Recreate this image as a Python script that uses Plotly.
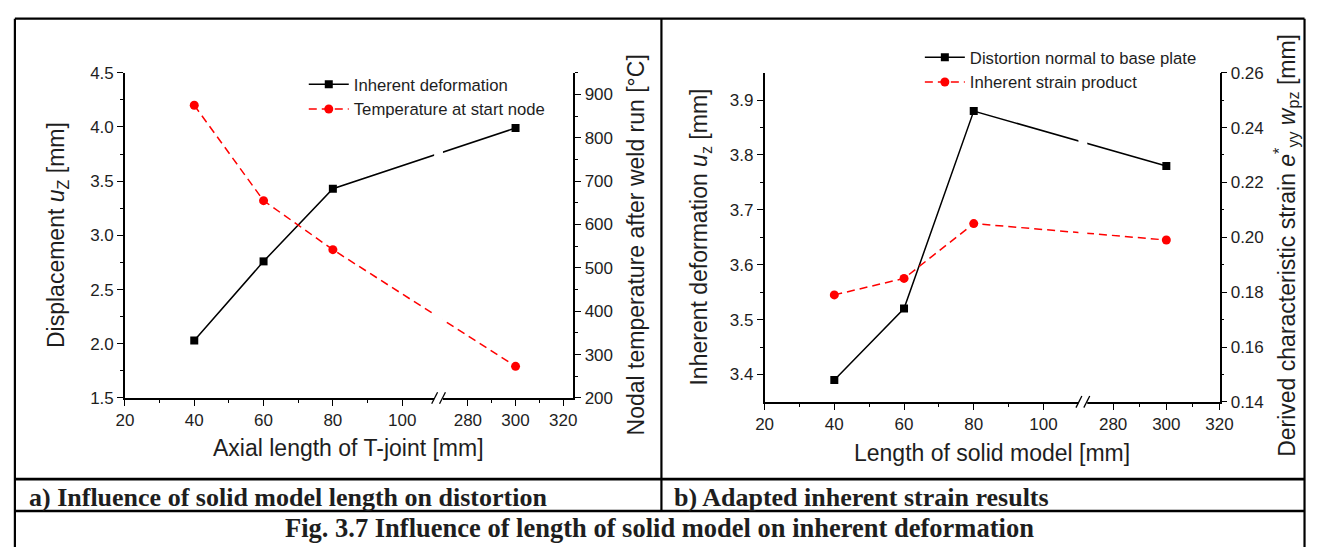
import plotly.graph_objects as go

# ---------------- data ----------------
lengths = [40, 60, 80, 300]
tick_values = [20, 40, 60, 80, 100, 280, 300, 320]
minor_values = [30, 50, 70, 90, 290, 310]

left_deformation = [2.03, 2.76, 3.43, 3.99]          # mm
left_temperature = [875, 655, 542, 273]              # deg C
right_distortion = [3.39, 3.52, 3.88, 3.78]          # mm
right_strain = [0.179, 0.185, 0.205, 0.199]          # mm

W, H = 1320, 547
SANS = "Liberation Sans, Arial, sans-serif"
SERIF = "Liberation Serif, Times New Roman, serif"
TXT = "#1e1e1e"

# broken-axis configuration: (break value, start of 2nd segment, scale ratio, end)
LEFT_BRK = dict(brk=110.5, s2=267.7, ratio=0.688, end=324.3)
RIGHT_BRK = dict(brk=111.3, s2=268.6, ratio=0.763, end=320.0)


def bmap(v, c):
    return v if v <= c["brk"] else c["brk"] + (v - c["s2"]) * c["ratio"]


def px(x):
    return x / W


def py(y):
    return 1 - y / H


fig = go.Figure()

# left chart traces
fig.add_trace(go.Scatter(
    x=[bmap(v, LEFT_BRK) for v in lengths], y=left_deformation,
    mode="lines+markers", name="Inherent deformation",
    line=dict(color="black", width=1.5),
    marker=dict(symbol="square", size=8, color="black"),
    xaxis="x", yaxis="y", legend="legend"))
fig.add_trace(go.Scatter(
    x=[bmap(v, LEFT_BRK) for v in lengths], y=left_temperature,
    mode="lines+markers", name="Temperature at start node",
    line=dict(color="#ff0000", width=1.5, dash="8px,5px"),
    marker=dict(symbol="circle", size=9, color="#ff0000"),
    xaxis="x", yaxis="y2", legend="legend"))

# right chart traces
fig.add_trace(go.Scatter(
    x=[bmap(v, RIGHT_BRK) for v in lengths], y=right_distortion,
    mode="lines+markers", name="Distortion normal to base plate",
    line=dict(color="black", width=1.5),
    marker=dict(symbol="square", size=8, color="black"),
    xaxis="x3", yaxis="y3", legend="legend2"))
fig.add_trace(go.Scatter(
    x=[bmap(v, RIGHT_BRK) for v in lengths], y=right_strain,
    mode="lines+markers", name="Inherent strain product",
    line=dict(color="#ff0000", width=1.5, dash="8px,5px"),
    marker=dict(symbol="circle", size=9, color="#ff0000"),
    xaxis="x3", yaxis="y4", legend="legend2"))

axis_common = dict(showline=True, linecolor="black", linewidth=1.5,
                   ticks="outside", ticklen=6, tickwidth=1.2, tickcolor="black",
                   showgrid=False, zeroline=False,
                   tickfont=dict(family=SANS, size=17, color=TXT))

# chart geometry (pixels)
L = dict(x0=118, x1=574.5, y0=66, y1=403)
R = dict(x0=769, x1=1232, y0=66, y1=407)


def xaxis_for(c, geom, anchor):
    return dict(axis_common,
                domain=[px(geom["x0"]), px(geom["x1"])],
                range=[20, bmap(c["end"], c)],
                tickmode="array",
                tickvals=[bmap(v, c) for v in tick_values],
                ticktext=[str(v) for v in tick_values],
                minor=dict(tickvals=[bmap(v, c) for v in minor_values],
                           ticks="outside", ticklen=3, tickcolor="black"),
                anchor=anchor)


legend_font = dict(family=SANS, size=16.7, color=TXT)

fig.update_layout(
    xaxis=xaxis_for(LEFT_BRK, L, "y"),
    yaxis=dict(axis_common, domain=[py(L["y1"]), py(L["y0"])], range=[1.5, 4.5],
               dtick=0.5, tickformat=".1f", anchor="x",
               minor=dict(dtick=0.25, ticks="outside", ticklen=3, tickcolor="black")),
    yaxis2=dict(axis_common, overlaying="y", side="right", range=[200, 950],
                tickmode="array", tickvals=[200, 300, 400, 500, 600, 700, 800, 900],
                anchor="x",
                minor=dict(dtick=50, ticks="outside", ticklen=3, tickcolor="black")),
    xaxis3=xaxis_for(RIGHT_BRK, R, "y3"),
    yaxis3=dict(axis_common, domain=[py(R["y1"]), py(R["y0"])], range=[3.35, 3.95],
                tickmode="array", tickvals=[3.4, 3.5, 3.6, 3.7, 3.8, 3.9],
                tickformat=".1f", anchor="x3",
                minor=dict(tickvals=[3.45, 3.55, 3.65, 3.75, 3.85],
                           ticks="outside", ticklen=3, tickcolor="black")),
    yaxis4=dict(axis_common, overlaying="y3", side="right", range=[0.14, 0.26],
                tickmode="array", tickvals=[0.14, 0.16, 0.18, 0.20, 0.22, 0.24, 0.26],
                tickformat=".2f", anchor="x3",
                minor=dict(tickvals=[0.15, 0.17, 0.19, 0.21, 0.23, 0.25],
                           ticks="outside", ticklen=3, tickcolor="black")),
    legend=dict(x=px(300), y=py(60), xanchor="left", yanchor="top",
                bgcolor="rgba(0,0,0,0)", itemwidth=40, tracegroupgap=0,
                font=legend_font),
    legend2=dict(x=px(927), y=py(32), xanchor="left", yanchor="top",
                 bgcolor="rgba(0,0,0,0)", itemwidth=40, tracegroupgap=0,
                 font=legend_font),
    width=W, height=H, margin=dict(l=0, r=0, t=0, b=0),
    paper_bgcolor="white", plot_bgcolor="white", showlegend=True,
)

# ---------- axis break markers ----------
shapes = []
for c, geom, xr, yr in [(LEFT_BRK, L, "x", "y"), (RIGHT_BRK, R, "x3", "y3")]:
    pxu = (geom["x1"] - geom["x0"]) / (bmap(c["end"], c) - 20)
    hdom = geom["y1"] - geom["y0"]
    b = c["brk"]
    shapes.append(dict(type="rect", xref=xr, yref=yr + " domain",
                       x0=b - 4.5 / pxu, x1=b + 4.5 / pxu, y0=-0.012, y1=1,
                       fillcolor="white", line=dict(width=0), layer="above"))
    for off in (-4, 4):
        shapes.append(dict(type="line", xref=xr, yref=yr + " domain",
                           x0=b + (off - 3) / pxu, x1=b + (off + 3) / pxu,
                           y0=-6 / hdom, y1=6 / hdom,
                           line=dict(color="black", width=1.3), layer="above"))

# ---------- table borders ----------
bw = 2.2
shapes += [
    dict(type="line", xref="paper", yref="paper", x0=px(6), x1=px(6), y0=py(10), y1=py(560), line=dict(color="black", width=bw)),
    dict(type="line", xref="paper", yref="paper", x0=px(1318.5), x1=px(1318.5), y0=py(10), y1=py(560), line=dict(color="black", width=bw)),
    dict(type="line", xref="paper", yref="paper", x0=px(6), x1=px(1318.5), y0=py(10), y1=py(10), line=dict(color="black", width=bw)),
    dict(type="line", xref="paper", yref="paper", x0=px(6), x1=px(1318.5), y0=py(487), y1=py(487), line=dict(color="black", width=2.6)),
    dict(type="line", xref="paper", yref="paper", x0=px(6), x1=px(1318.5), y0=py(520), y1=py(520), line=dict(color="black", width=2.6)),
    dict(type="line", xref="paper", yref="paper", x0=px(664), x1=px(664), y0=py(10), y1=py(520), line=dict(color="black", width=bw)),
]
fig.update_layout(shapes=shapes)

# ---------- text ----------
ann = []


def add_text(text, x, y, size, angle=0, xanchor="center", family=SANS, yanchor="middle"):
    ann.append(dict(text=text, x=px(x), y=py(y), xref="paper", yref="paper",
                    showarrow=False, textangle=angle, xanchor=xanchor, yanchor=yanchor,
                    font=dict(family=family, size=size, color=TXT)))


add_text("Displacement <i>u</i><sub>Z</sub> [mm]", 50, 234, 23, angle=-90)
add_text("Nodal temperature after weld run [°C]", 638, 244, 23, angle=-90)
add_text("Axial length of T-joint [mm]", 346, 455, 23)

add_text("Inherent deformation <i>u</i><sub>z</sub> [mm]", 704, 236, 23, angle=-90)
add_text("Derived characteristic strain <i>e</i><sup>*</sup><sub>yy</sub> <i>w</i><sub>pz</sub> [mm]",
         1300, 245, 23, angle=-90)
add_text("Length of solid model [mm]", 1000, 460, 23)

add_text("<b>a) Influence of solid model length on distortion</b>", 18, 506, 26,
         xanchor="left", family=SERIF)
add_text("<b>b) Adapted inherent strain results</b>", 675, 506, 26,
         xanchor="left", family=SERIF)
add_text("<b>Fig. 3.7 Influence of length of solid model on inherent deformation</b>",
         662, 538, 26.5, family=SERIF)

fig.update_layout(annotations=ann)

fig.write_html("out.html")
